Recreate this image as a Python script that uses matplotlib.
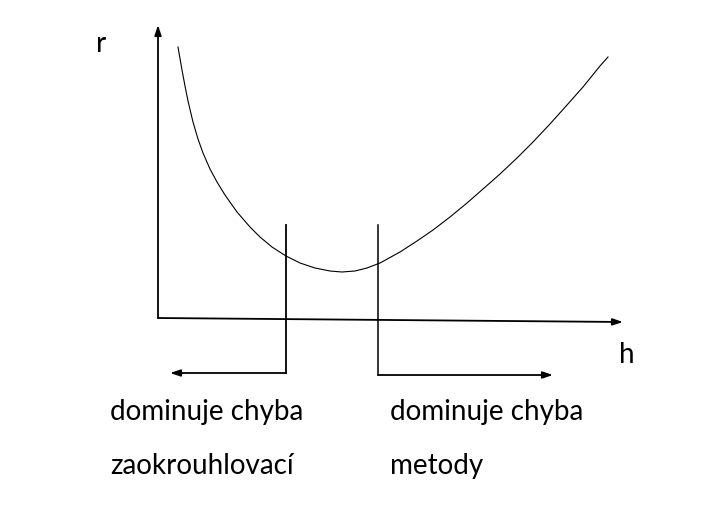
import matplotlib.pyplot as plt

# curve r(h) (pixel-like units, y grows downwards)
curve_x = [178, 182, 185, 188, 193, 198, 203, 210, 217, 225, 237, 250, 260, 272,
           286, 300, 315, 330, 342, 355, 367, 380, 400, 417, 433, 450, 467, 483,
           500, 517, 533, 550, 567, 583, 600, 608]
curve_y = [47, 70, 86, 101, 122, 139, 153, 169, 182, 195, 212, 227, 237, 247,
           256, 263, 268, 271, 272, 271, 268, 263, 252, 241, 230, 217, 203, 189,
           174, 158, 142, 124, 105, 87, 66, 57]

left_label = ['dominuje chyba', 'zaokrouhlovací']
right_label = ['dominuje chyba', 'metody']
h_left, h_right = 286, 378

plt.rcParams['font.family'] = ['Lato', 'DejaVu Sans']

fig = plt.figure(figsize=(7.12, 5.14), dpi=100)
ax = fig.add_axes([0, 0, 1, 1])
ax.set_xlim(0, 712)
ax.set_ylim(514, 0)
ax.axis('off')

arrow = dict(arrowstyle='-|>,head_length=0.6,head_width=0.2', color='black',
             lw=1.3, shrinkA=0, shrinkB=0)

# axes
ax.annotate('', xy=(158, 25), xytext=(158, 318), arrowprops=arrow)
ax.annotate('', xy=(623, 322), xytext=(158, 318), arrowprops=arrow)
ax.text(101, 44, 'r', fontsize=20, ha='center', va='center')
ax.text(627, 355, 'h', fontsize=20, ha='center', va='center')

ax.plot(curve_x, curve_y, color='black', lw=0.8)

# region boundaries and arrows
ax.plot([h_left, h_left], [225, 373], color='black', lw=1.3)
ax.plot([h_right, h_right], [225, 375], color='black', lw=1.1)
ax.annotate('', xy=(170, 373), xytext=(h_left, 373), arrowprops=arrow)
ax.annotate('', xy=(553, 375), xytext=(h_right, 375), arrowprops=arrow)

for i, s in enumerate(left_label):
    ax.text(110, 420 + i * 54, s, fontsize=20, ha='left', va='baseline')
for i, s in enumerate(right_label):
    ax.text(390, 420 + i * 54, s, fontsize=20, ha='left', va='baseline')

fig.savefig('out.png', dpi=100)
